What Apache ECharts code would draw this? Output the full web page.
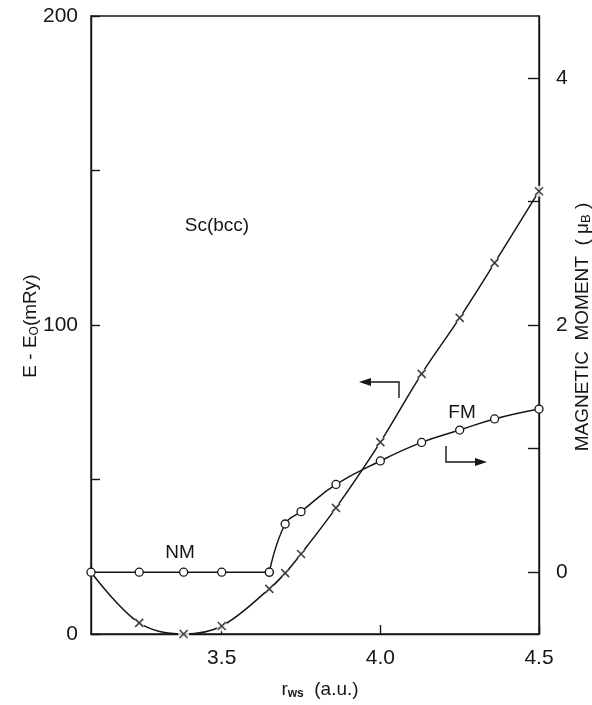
<!DOCTYPE html>
<html><head><meta charset="utf-8">
<script src="https://cdn.jsdelivr.net/npm/echarts@6/dist/echarts.min.js"></script>
<style>html,body{margin:0;padding:0;background:#fff}#c{width:592px;height:705px}</style>
</head><body><div id="c"></div>
<script>
// ---- data ----
const rwsEnergy = [3.088, 3.24, 3.38, 3.50, 3.65, 3.70, 3.75, 3.86, 4.00, 4.13, 4.25, 4.36, 4.50];
const energy    = [20.0, 3.6, 0.0, 2.6, 14.6, 19.7, 25.9, 40.8, 62.1, 84.2, 102.3, 120.1, 143.3];
const rwsNM     = [3.088, 3.24, 3.38, 3.50, 3.65];
const momentNM  = [0, 0, 0, 0, 0];
const rwsFM     = [3.65, 3.70, 3.75, 3.86, 4.00, 4.13, 4.25, 4.36, 4.50];
const momentFM  = [0.0, 0.39, 0.49, 0.71, 0.90, 1.05, 1.15, 1.24, 1.32];
const xTicks    = [3.5, 4.0, 4.5];
const leftLabels  = [0, 100, 200];
const rightTicks  = [0, 1, 2, 3, 4];
const rightLabels = [0, 2, 4];

const INK = '#161616';
const FONT = 'Liberation Sans';
const pairs = (xs, ys) => xs.map((x, i) => [x, ys[i]]);
const CROSS = 'path://M0,0L10,10M10,0L0,10';

const chart = echarts.init(document.getElementById('c'), null, {renderer: 'canvas'});
const axisLine = {show: true, lineStyle: {color: INK, width: 1.4}};
const option = {
  animation: false,
  backgroundColor: '#fff',
  grid: {left: 91, right: 53, top: 16, bottom: 71, show: true, borderColor: INK, borderWidth: 1.4},
  xAxis: {
    type: 'value', min: 3.088, max: 4.5,
    axisLine: axisLine,
    axisTick: {inside: true, length: 9, customValues: xTicks, lineStyle: {color: INK, width: 1.4}},
    axisLabel: {customValues: xTicks, formatter: v => v.toFixed(1), fontSize: 21, color: INK, margin: 14, fontFamily: FONT},
    splitLine: {show: false}
  },
  yAxis: [{
    type: 'value', min: 0, max: 200, interval: 50, position: 'left',
    axisLine: axisLine,
    axisTick: {inside: true, length: 9, lineStyle: {color: INK, width: 1.4}},
    axisLabel: {formatter: v => leftLabels.includes(v) ? String(v) : '', fontSize: 21, color: INK, margin: 13, fontFamily: FONT},
    splitLine: {show: false}
  }, {
    type: 'value', min: -0.5, max: 4.5, position: 'right',
    axisLine: axisLine,
    axisTick: {inside: true, length: 11, customValues: rightTicks, lineStyle: {color: INK, width: 1.4}},
    axisLabel: {customValues: rightLabels, fontSize: 21, color: INK, margin: 17, fontFamily: FONT},
    splitLine: {show: false}
  }],
  series: [{
    type: 'line', data: pairs(rwsEnergy, energy), symbol: 'none', smooth: 0.35,
    lineStyle: {color: INK, width: 1.5}, z: 2
  }, {
    type: 'scatter', data: pairs(rwsEnergy.slice(1), energy.slice(1)), symbol: 'circle', symbolSize: 11,
    itemStyle: {color: '#fff'}, z: 3, silent: true
  }, {
    type: 'scatter', data: pairs(rwsEnergy.slice(1), energy.slice(1)), symbol: CROSS, symbolSize: 8,
    itemStyle: {color: 'transparent', borderColor: INK, borderWidth: 1.6}, z: 4, silent: true
  }, {
    type: 'line', yAxisIndex: 1, data: pairs(rwsNM, momentNM), symbol: 'circle', symbolSize: 8,
    itemStyle: {color: '#fff', borderColor: INK, borderWidth: 1.3},
    lineStyle: {color: INK, width: 1.5}, z: 5
  }, {
    type: 'line', yAxisIndex: 1, data: pairs(rwsFM, momentFM), symbol: 'circle', symbolSize: 8, smooth: 0.45,
    itemStyle: {color: '#fff', borderColor: INK, borderWidth: 1.3},
    lineStyle: {color: INK, width: 1.5}, z: 5
  }],
  graphic: [
    {type: 'text', x: 217, y: 226, style: {text: 'Sc(bcc)', font: '19px ' + FONT, fill: INK, align: 'center', verticalAlign: 'middle'}},
    {type: 'text', x: 180, y: 553, style: {text: 'NM', font: '19px ' + FONT, fill: INK, align: 'center', verticalAlign: 'middle'}},
    {type: 'text', x: 462, y: 413, style: {text: 'FM', font: '19px ' + FONT, fill: INK, align: 'center', verticalAlign: 'middle'}},
    // left-pointing arrow (energy axis)
    {type: 'polyline', shape: {points: [[370, 382], [399, 382], [399, 398]]}, style: {stroke: INK, lineWidth: 1.4, fill: null}},
    {type: 'polygon', shape: {points: [[359, 382], [371, 378], [371, 386]]}, style: {fill: INK}},
    // right-pointing arrow (moment axis)
    {type: 'polyline', shape: {points: [[446, 446], [446, 462], [476, 462]]}, style: {stroke: INK, lineWidth: 1.4, fill: null}},
    {type: 'polygon', shape: {points: [[487, 462], [475, 458], [475, 466]]}, style: {fill: INK}},
    // axis names
    {type: 'text', x: 31, y: 326, rotation: Math.PI / 2, style: {
      text: '{a|E - E}{s|O}{a|(mRy)}', align: 'center', verticalAlign: 'middle',
      rich: {a: {font: '19px ' + FONT, fill: INK, lineHeight: 20, verticalAlign: 'middle'},
             s: {font: '12px ' + FONT, fill: INK, lineHeight: 12, verticalAlign: 'bottom'}}}},
    {type: 'text', x: 583, y: 327, rotation: Math.PI / 2, style: {
      text: '{a|MAGNETIC  MOMENT  ( μ}{s|B}{a| )}', align: 'center', verticalAlign: 'middle',
      rich: {a: {font: '19px ' + FONT, fill: INK, lineHeight: 20, verticalAlign: 'middle'},
             s: {font: '13px ' + FONT, fill: INK, lineHeight: 13, verticalAlign: 'bottom'}}}},
    {type: 'text', x: 320, y: 690, style: {
      text: '{a|r}{s|ws}{a|  (a.u.)}', align: 'center', verticalAlign: 'middle',
      rich: {a: {font: '19px ' + FONT, fill: INK, lineHeight: 20, verticalAlign: 'middle'},
             s: {font: 'bold 12px ' + FONT, fill: INK, lineHeight: 12, verticalAlign: 'bottom'}}}}
  ]
};
chart.setOption(option);
</script>
</body></html>
